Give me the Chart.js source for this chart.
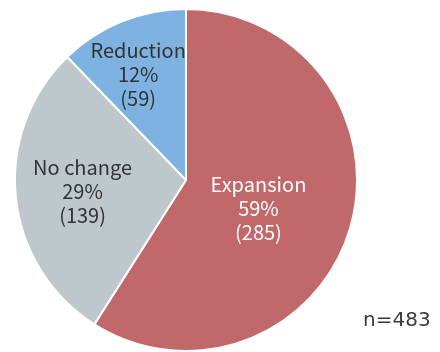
<!DOCTYPE html>
<html>
<head>
<meta charset="utf-8">
<script src="https://cdn.jsdelivr.net/npm/chart.js@4/dist/chart.umd.min.js"></script>
<style>
  html, body { margin: 0; padding: 0; background: #fff; }
</style>
</head>
<body>
<canvas id="pie" width="440" height="352"></canvas>
<script>
const categorias = ["Expansion", "No change", "Reduction"];
const valores = [285, 139, 59];
const percentuais = ["59%", "29%", "12%"];
const totalTexto = "n=483";
const cores = ["#c0686a", "#bec7cc", "#7eb3e1"];
const corTexto = ["#ffffff", "#333333", "#333333"];
// label placement: share of the radius and a small turn (degrees) off the slice bisector
const raioRotulo = [0.456, 0.609, 0.677];
const desvioRotulo = [5.5, -0.8, -2.4];

const rotulos = {
  id: "rotulos",
  afterDatasetsDraw(chart) {
    const ctx = chart.ctx;
    const arcos = chart.getDatasetMeta(0).data;
    ctx.save();
    ctx.font = '20px "Noto Sans CJK JP", "Noto Sans", sans-serif';
    ctx.textAlign = "center";
    ctx.textBaseline = "alphabetic";
    arcos.forEach((a, i) => {
      const ang = (a.startAngle + a.endAngle) / 2 + desvioRotulo[i] * Math.PI / 180;
      const r = a.outerRadius * raioRotulo[i];
      const x = a.x + Math.cos(ang) * r;
      const y = a.y + Math.sin(ang) * r + 7;
      ctx.fillStyle = corTexto[i];
      ctx.fillText(categorias[i], x, y - 24);
      ctx.fillText(percentuais[i], x, y);
      ctx.fillText("(" + valores[i] + ")", x, y + 24);
    });
    ctx.font = '20px "DejaVu Sans", sans-serif';
    ctx.textAlign = "left";
    ctx.fillStyle = "#3a3a3a";
    ctx.fillText(totalTexto, 363, 326);
    ctx.restore();
  }
};

new Chart(document.getElementById("pie").getContext("2d"), {
  type: "pie",
  data: {
    labels: categorias,
    datasets: [{ data: valores, backgroundColor: cores, borderColor: "#ffffff", borderWidth: 2, hoverOffset: 0 }]
  },
  options: {
    responsive: false,
    animation: false,
    layout: { padding: { left: 14, right: 82, top: 8, bottom: 0 } },
    plugins: { legend: { display: false }, tooltip: { enabled: false } }
  },
  plugins: [rotulos]
});
</script>
</body>
</html>
